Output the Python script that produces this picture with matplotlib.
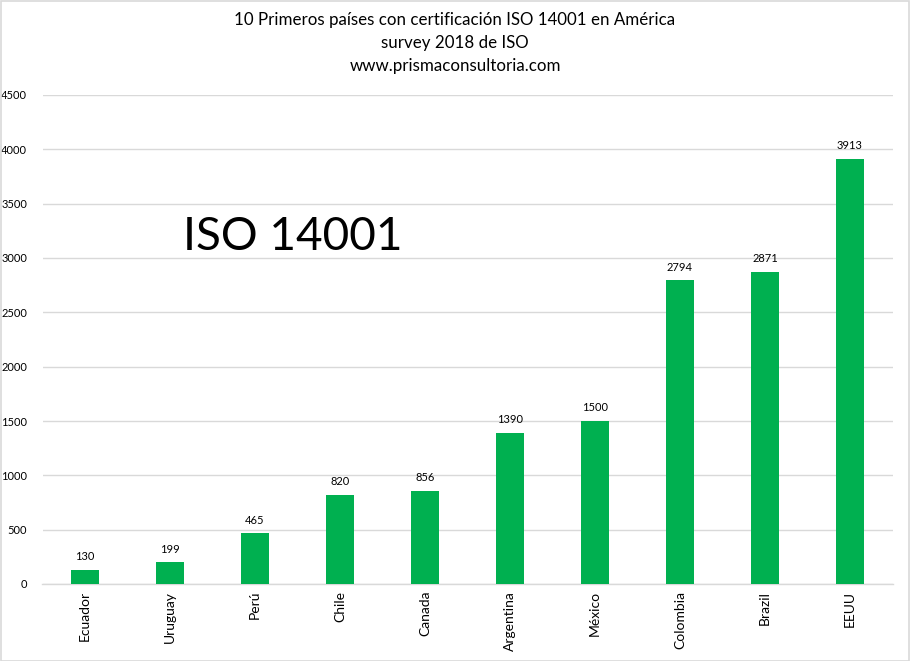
import matplotlib
matplotlib.use("Agg")
import matplotlib.pyplot as plt
from matplotlib.patches import Rectangle

countries = ["Ecuador", "Uruguay", "Perú", "Chile", "Canada", "Argentina",
             "México", "Colombia", "Brazil", "EEUU"]
values = [130, 199, 465, 820, 856, 1390, 1500, 2794, 2871, 3913]
yticks = [0, 500, 1000, 1500, 2000, 2500, 3000, 3500, 4000, 4500]
title_lines = ["10 Primeros países con certificación ISO 14001 en América",
               "survey 2018 de ISO",
               "www.prismaconsultoria.com"]

plt.rcParams['font.family'] = ['Lato', 'DejaVu Sans']

W, H = 910, 661
fig = plt.figure(figsize=(W / 100, H / 100), dpi=100)
ax = fig.add_axes([42.5 / W, 1 - 584 / H, (892.5 - 42.5) / W, (584 - 95) / H])

x = list(range(len(countries)))
bars = ax.bar(x, values, width=0.32, color="#00B050", zorder=3)
for xi, v in zip(x, values):
    ax.annotate(str(v), (xi, v), xytext=(0, 5.5), textcoords="offset points",
                ha="center", va="bottom", fontsize=8, color="#000000")

ax.set_xlim(-0.5, len(countries) - 0.5)
ax.set_ylim(0, 4500)
ax.set_yticks(yticks)
ax.set_yticklabels([str(t) for t in yticks], fontsize=8)
ax.set_xticks(x)
ax.set_xticklabels(countries, rotation=90, fontsize=10)
ax.tick_params(axis="both", length=0)
ax.tick_params(axis="y", pad=11)
ax.tick_params(axis="x", pad=5)
ax.grid(axis="y", color="#D9D9D9", linewidth=1, zorder=0)
for s in ["top", "right", "left"]:
    ax.spines[s].set_visible(False)
ax.spines["bottom"].set_color("#D9D9D9")
ax.spines["bottom"].set_linewidth(1)

ax.text(183 / W, 1 - 250 / H, "ISO 14001", transform=fig.transFigure,
        fontsize=33, ha="left", va="baseline", color="#000000")

for i, line in enumerate(title_lines):
    fig.text(455 / W, 1 - (20 + 23 * i) / H, line, ha="center", va="center",
             fontsize=12.2, color="#000000")

fig.patches.append(Rectangle((0.5 / W, 0.5 / H), 1 - 1.5 / W, 1 - 1.5 / H,
                             transform=fig.transFigure, fill=False,
                             edgecolor="#D9D9D9", linewidth=1.2))

fig.savefig("out.png", dpi=100)
